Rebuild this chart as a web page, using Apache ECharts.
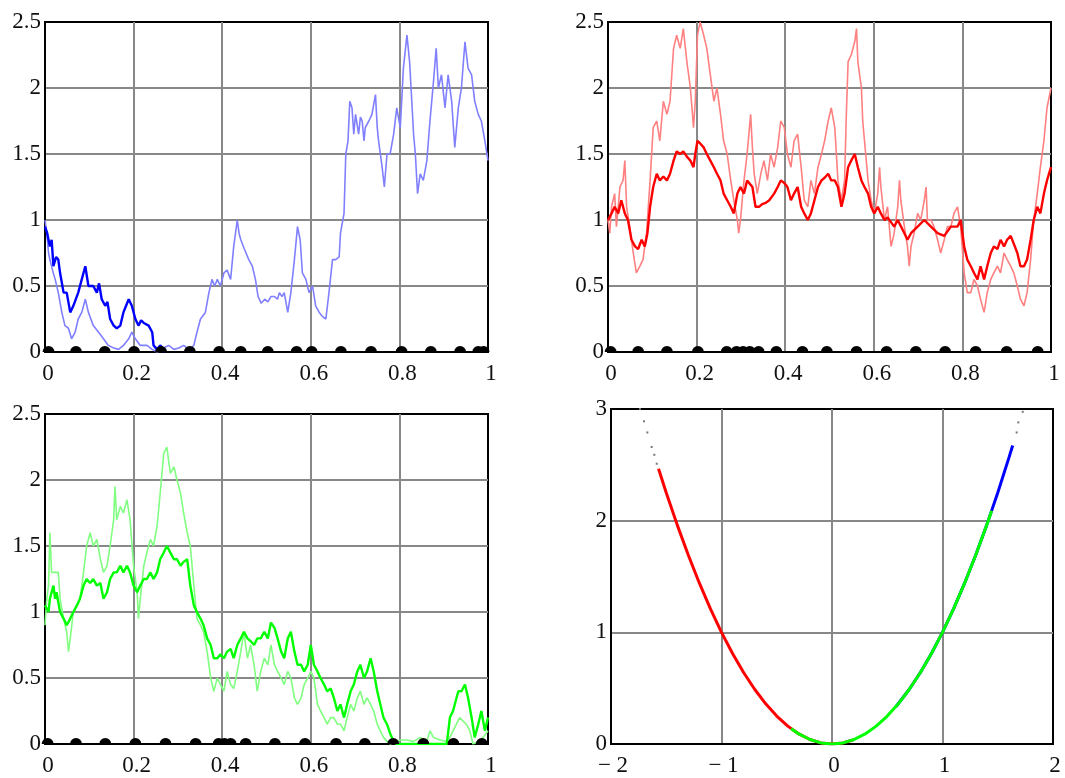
<!DOCTYPE html>
<html>
<head>
<meta charset="utf-8">
<script src="https://cdn.jsdelivr.net/npm/echarts@6.0.0/dist/echarts.min.js"></script>
<style>
  html, body { margin: 0; padding: 0; background: #fff; }
  #chart { width: 1065px; height: 778px; }
</style>
</head>
<body>
<div id="chart"></div>
<script>
// --- data ---
var xTicks = [0, 0.2, 0.4, 0.6, 0.8, 1];
var yTicks = [0, 0.5, 1, 1.5, 2, 2.5];

// panel 1 (blue)
var blueDark = [[0,0.95],[0.005,0.9],[0.011,0.8],[0.015,0.85],[0.019,0.65],[0.025,0.72],[0.03,0.7],[0.034,0.6],[0.042,0.45],[0.049,0.45],[0.057,0.3],[0.064,0.35],[0.075,0.45],[0.083,0.55],[0.087,0.6],[0.091,0.65],[0.098,0.5],[0.109,0.5],[0.117,0.45],[0.122,0.52],[0.128,0.4],[0.136,0.35],[0.141,0.38],[0.147,0.25],[0.155,0.2],[0.162,0.18],[0.17,0.2],[0.177,0.3],[0.183,0.35],[0.189,0.4],[0.196,0.35],[0.204,0.25],[0.211,0.2],[0.217,0.24],[0.223,0.22],[0.234,0.2],[0.242,0.15],[0.245,0.05],[0.253,0.02],[0.26,0.05],[0.268,0.02],[0.272,0]];
var blueLight = [[0,1.0],[0.004,0.9],[0.008,0.75],[0.011,0.7],[0.017,0.62],[0.023,0.55],[0.03,0.45],[0.038,0.3],[0.045,0.2],[0.053,0.18],[0.06,0.1],[0.068,0.15],[0.075,0.25],[0.083,0.3],[0.091,0.4],[0.098,0.3],[0.109,0.2],[0.121,0.15],[0.132,0.1],[0.143,0.05],[0.155,0.03],[0.166,0.02],[0.177,0.05],[0.189,0.1],[0.196,0.15],[0.204,0.1],[0.215,0.05],[0.23,0.05],[0.242,0.02],[0.253,0],[0.268,0.03],[0.279,0.05],[0.291,0.02],[0.302,0.03],[0.313,0.05],[0.325,0.02],[0.336,0.05],[0.343,0.15],[0.351,0.25],[0.362,0.3],[0.37,0.45],[0.377,0.55],[0.383,0.5],[0.389,0.55],[0.396,0.5],[0.404,0.6],[0.411,0.62],[0.419,0.55],[0.426,0.8],[0.434,1.0],[0.438,0.9],[0.442,0.85],[0.45,0.78],[0.46,0.7],[0.468,0.65],[0.475,0.55],[0.481,0.42],[0.488,0.37],[0.496,0.4],[0.503,0.38],[0.51,0.42],[0.518,0.42],[0.525,0.4],[0.529,0.45],[0.535,0.42],[0.54,0.45],[0.548,0.3],[0.555,0.45],[0.563,0.7],[0.57,0.95],[0.576,0.85],[0.581,0.6],[0.589,0.55],[0.596,0.45],[0.604,0.5],[0.611,0.35],[0.619,0.3],[0.626,0.27],[0.634,0.25],[0.641,0.45],[0.649,0.7],[0.656,0.7],[0.664,0.72],[0.667,0.9],[0.675,1.05],[0.679,1.5],[0.684,1.6],[0.688,1.9],[0.693,1.85],[0.697,1.65],[0.701,1.8],[0.708,1.65],[0.712,1.78],[0.716,1.75],[0.72,1.6],[0.723,1.7],[0.731,1.75],[0.738,1.8],[0.746,1.95],[0.75,1.7],[0.753,1.6],[0.761,1.4],[0.766,1.25],[0.772,1.5],[0.779,1.5],[0.787,1.65],[0.794,1.85],[0.802,1.7],[0.809,2.15],[0.817,2.4],[0.823,2.2],[0.828,1.9],[0.832,1.65],[0.836,1.5],[0.841,1.2],[0.847,1.35],[0.854,1.3],[0.862,1.45],[0.869,1.75],[0.877,2.05],[0.883,2.3],[0.888,2.0],[0.895,2.1],[0.903,1.85],[0.91,2.1],[0.918,1.9],[0.925,1.55],[0.933,1.85],[0.94,2.0],[0.948,2.35],[0.955,2.15],[0.963,2.1],[0.97,1.9],[0.978,1.8],[0.985,1.75],[0.993,1.6],[1.0,1.45]];
var zeros1 = [0.008,0.07,0.135,0.201,0.262,0.327,0.393,0.442,0.503,0.568,0.602,0.668,0.736,0.805,0.871,0.937,0.978,0.99];

// panel 2 (red)
var redDark = [[0,1.0],[0.008,1.05],[0.015,1.1],[0.023,1.05],[0.03,1.15],[0.038,1.05],[0.045,1.0],[0.053,0.85],[0.061,0.8],[0.068,0.78],[0.076,0.85],[0.083,0.8],[0.089,0.9],[0.095,1.1],[0.102,1.25],[0.11,1.35],[0.117,1.3],[0.125,1.33],[0.133,1.3],[0.14,1.35],[0.148,1.45],[0.155,1.52],[0.163,1.5],[0.17,1.52],[0.178,1.48],[0.186,1.45],[0.193,1.4],[0.197,1.5],[0.202,1.6],[0.208,1.58],[0.216,1.55],[0.223,1.5],[0.231,1.45],[0.239,1.4],[0.246,1.35],[0.254,1.3],[0.261,1.2],[0.269,1.15],[0.277,1.1],[0.284,1.05],[0.292,1.2],[0.299,1.25],[0.307,1.2],[0.314,1.3],[0.326,1.25],[0.333,1.1],[0.341,1.1],[0.348,1.12],[0.356,1.13],[0.364,1.15],[0.375,1.2],[0.383,1.25],[0.39,1.3],[0.398,1.28],[0.405,1.25],[0.413,1.15],[0.42,1.2],[0.428,1.25],[0.436,1.1],[0.443,1.05],[0.451,1.0],[0.458,1.05],[0.466,1.15],[0.474,1.25],[0.482,1.3],[0.489,1.32],[0.497,1.35],[0.504,1.3],[0.512,1.3],[0.519,1.25],[0.527,1.1],[0.534,1.2],[0.542,1.4],[0.549,1.45],[0.557,1.5],[0.564,1.4],[0.572,1.3],[0.579,1.25],[0.587,1.2],[0.594,1.1],[0.601,1.05],[0.609,1.1],[0.616,1.05],[0.624,1.0],[0.631,1.02],[0.646,0.95],[0.654,1.0],[0.669,0.9],[0.676,0.85],[0.684,0.9],[0.699,0.95],[0.714,1.0],[0.729,0.95],[0.744,0.9],[0.759,0.88],[0.774,0.95],[0.789,0.95],[0.796,1.0],[0.804,0.8],[0.811,0.7],[0.819,0.65],[0.826,0.6],[0.834,0.55],[0.841,0.65],[0.849,0.55],[0.856,0.65],[0.864,0.75],[0.871,0.8],[0.879,0.78],[0.886,0.85],[0.894,0.8],[0.901,0.85],[0.909,0.88],[0.916,0.82],[0.924,0.75],[0.931,0.65],[0.939,0.65],[0.946,0.7],[0.954,0.85],[0.961,1.0],[0.969,1.1],[0.976,1.05],[0.984,1.2],[0.991,1.3],[1.0,1.4]];
var redLight = [[0,1.0],[0.004,0.9],[0.008,1.1],[0.015,1.2],[0.019,0.95],[0.027,1.25],[0.034,1.3],[0.038,1.45],[0.042,1.1],[0.049,0.95],[0.057,0.75],[0.064,0.6],[0.072,0.65],[0.079,0.7],[0.087,0.9],[0.095,1.3],[0.102,1.7],[0.11,1.75],[0.117,1.6],[0.125,1.9],[0.133,1.8],[0.14,1.9],[0.148,2.3],[0.155,2.4],[0.163,2.3],[0.17,2.45],[0.178,2.2],[0.186,2.0],[0.193,1.7],[0.197,1.9],[0.202,2.4],[0.208,2.5],[0.216,2.4],[0.223,2.3],[0.231,2.1],[0.239,1.9],[0.246,2.0],[0.254,1.8],[0.261,1.6],[0.269,1.5],[0.277,1.3],[0.284,1.15],[0.292,1.0],[0.295,0.9],[0.299,1.0],[0.307,1.3],[0.314,1.5],[0.322,1.8],[0.326,1.55],[0.33,1.35],[0.337,1.2],[0.345,1.35],[0.352,1.45],[0.36,1.3],[0.367,1.5],[0.375,1.4],[0.383,1.55],[0.39,1.75],[0.398,1.7],[0.405,1.5],[0.413,1.4],[0.42,1.6],[0.428,1.65],[0.436,1.4],[0.443,1.15],[0.451,1.1],[0.458,1.3],[0.466,1.2],[0.474,1.4],[0.482,1.5],[0.489,1.6],[0.497,1.75],[0.504,1.85],[0.512,1.7],[0.519,1.3],[0.527,1.15],[0.534,1.3],[0.538,1.8],[0.542,2.2],[0.549,2.25],[0.557,2.35],[0.561,2.45],[0.564,2.2],[0.572,2.0],[0.575,1.75],[0.579,1.6],[0.587,1.3],[0.594,1.15],[0.601,1.05],[0.609,1.2],[0.613,1.4],[0.616,1.25],[0.624,1.0],[0.631,1.1],[0.639,0.8],[0.646,0.9],[0.654,1.1],[0.658,1.3],[0.661,1.15],[0.669,0.95],[0.676,0.8],[0.68,0.65],[0.684,0.8],[0.691,0.9],[0.699,1.05],[0.706,1.0],[0.714,1.15],[0.718,1.25],[0.721,1.0],[0.729,1.0],[0.736,0.95],[0.744,0.85],[0.751,0.75],[0.759,0.85],[0.766,0.95],[0.774,0.95],[0.781,1.05],[0.789,1.1],[0.796,0.95],[0.804,0.6],[0.811,0.45],[0.819,0.45],[0.826,0.55],[0.834,0.5],[0.841,0.4],[0.849,0.3],[0.856,0.45],[0.864,0.55],[0.871,0.6],[0.879,0.65],[0.886,0.6],[0.894,0.75],[0.901,0.7],[0.909,0.65],[0.916,0.6],[0.924,0.5],[0.931,0.4],[0.939,0.35],[0.946,0.45],[0.954,0.7],[0.961,1.0],[0.969,1.2],[0.976,1.4],[0.984,1.6],[0.991,1.85],[1.0,2.0]];
var zeros2 = [0.006,0.068,0.133,0.203,0.268,0.29,0.305,0.32,0.34,0.38,0.439,0.494,0.561,0.629,0.695,0.761,0.83,0.9,0.97];

// panel 3 (green)
var greenDark = [[0,1.05],[0.008,1.0],[0.011,1.1],[0.019,1.2],[0.023,1.1],[0.026,1.15],[0.034,1.0],[0.042,0.95],[0.049,0.9],[0.057,0.95],[0.064,1.0],[0.072,1.05],[0.079,1.1],[0.087,1.2],[0.094,1.25],[0.102,1.22],[0.109,1.25],[0.117,1.2],[0.125,1.22],[0.132,1.1],[0.14,1.15],[0.147,1.25],[0.155,1.3],[0.162,1.3],[0.17,1.35],[0.177,1.3],[0.185,1.35],[0.192,1.3],[0.2,1.2],[0.208,1.15],[0.215,1.2],[0.223,1.25],[0.23,1.25],[0.238,1.3],[0.245,1.25],[0.253,1.3],[0.26,1.4],[0.268,1.45],[0.275,1.5],[0.283,1.45],[0.291,1.4],[0.298,1.4],[0.306,1.35],[0.313,1.38],[0.321,1.4],[0.328,1.2],[0.336,1.05],[0.343,1.0],[0.351,0.95],[0.358,0.9],[0.366,0.8],[0.374,0.75],[0.381,0.65],[0.389,0.65],[0.396,0.68],[0.404,0.65],[0.411,0.7],[0.419,0.72],[0.426,0.65],[0.434,0.75],[0.442,0.8],[0.449,0.85],[0.457,0.8],[0.464,0.78],[0.472,0.75],[0.479,0.8],[0.487,0.8],[0.495,0.85],[0.503,0.8],[0.51,0.92],[0.518,0.88],[0.525,0.8],[0.533,0.7],[0.54,0.65],[0.548,0.8],[0.555,0.85],[0.563,0.7],[0.57,0.6],[0.578,0.6],[0.585,0.55],[0.593,0.6],[0.6,0.75],[0.607,0.6],[0.615,0.55],[0.622,0.5],[0.63,0.45],[0.637,0.4],[0.645,0.42],[0.652,0.35],[0.66,0.25],[0.667,0.3],[0.675,0.2],[0.682,0.3],[0.69,0.4],[0.697,0.45],[0.705,0.55],[0.712,0.6],[0.72,0.5],[0.727,0.55],[0.735,0.65],[0.742,0.55],[0.75,0.4],[0.757,0.3],[0.764,0.2],[0.772,0.15],[0.779,0.08],[0.787,0.02],[0.794,0],[0.907,0],[0.914,0.2],[0.921,0.25],[0.933,0.4],[0.94,0.4],[0.948,0.45],[0.955,0.35],[0.963,0.2],[0.97,0.05],[0.978,0.15],[0.985,0.25],[0.993,0.1],[1.0,0.2]];
var greenLight = [[0,0.9],[0.004,1.1],[0.008,1.2],[0.011,1.6],[0.015,1.3],[0.023,1.3],[0.03,1.3],[0.034,1.1],[0.042,0.95],[0.049,0.85],[0.053,0.7],[0.057,0.8],[0.064,1.0],[0.072,1.05],[0.079,1.1],[0.087,1.3],[0.094,1.5],[0.102,1.6],[0.109,1.5],[0.117,1.55],[0.125,1.4],[0.132,1.3],[0.14,1.35],[0.147,1.5],[0.155,1.7],[0.158,1.95],[0.162,1.7],[0.17,1.8],[0.177,1.75],[0.185,1.85],[0.192,1.7],[0.2,1.35],[0.208,1.15],[0.211,0.95],[0.215,1.1],[0.223,1.35],[0.23,1.45],[0.238,1.55],[0.245,1.5],[0.253,1.65],[0.26,1.9],[0.268,2.2],[0.275,2.25],[0.283,2.05],[0.291,2.1],[0.298,2.0],[0.306,1.9],[0.313,1.75],[0.321,1.6],[0.328,1.5],[0.336,1.2],[0.343,0.95],[0.351,0.9],[0.358,0.85],[0.366,0.7],[0.374,0.5],[0.381,0.4],[0.389,0.5],[0.396,0.45],[0.404,0.4],[0.411,0.55],[0.419,0.45],[0.426,0.42],[0.434,0.55],[0.442,0.7],[0.449,0.85],[0.457,0.65],[0.464,0.75],[0.472,0.6],[0.479,0.4],[0.487,0.55],[0.495,0.65],[0.503,0.6],[0.51,0.75],[0.518,0.6],[0.525,0.55],[0.533,0.5],[0.54,0.45],[0.548,0.55],[0.555,0.5],[0.563,0.35],[0.57,0.3],[0.578,0.35],[0.585,0.45],[0.593,0.5],[0.6,0.55],[0.607,0.5],[0.615,0.3],[0.622,0.25],[0.63,0.2],[0.637,0.15],[0.645,0.2],[0.652,0.2],[0.66,0.15],[0.667,0.15],[0.675,0.1],[0.682,0.2],[0.69,0.3],[0.697,0.25],[0.705,0.35],[0.712,0.4],[0.72,0.3],[0.727,0.35],[0.735,0.3],[0.742,0.25],[0.75,0.15],[0.757,0.1],[0.764,0.05],[0.772,0.02],[0.779,0],[0.802,0.03],[0.817,0.03],[0.832,0.02],[0.847,0.05],[0.862,0.02],[0.869,0.1],[0.877,0.05],[0.892,0.03],[0.907,0.02],[0.914,0.05],[0.921,0.1],[0.936,0.2],[0.951,0.15],[0.959,0.1],[0.966,0],[0.981,0.02],[0.989,0.05],[1.0,0.1]];
var zeros3 = [0.006,0.07,0.136,0.204,0.272,0.34,0.392,0.405,0.419,0.453,0.519,0.587,0.657,0.722,0.786,0.854,0.922,0.986];

// panel 4 (parabola)
var paraRed = [[-1.57,2.465],[-1.5,2.25],[-1.4,1.96],[-1.3,1.69],[-1.2,1.44],[-1.1,1.21],[-1.0,1.0],[-0.9,0.81],[-0.8,0.64],[-0.7,0.49],[-0.6,0.36],[-0.5,0.25],[-0.4,0.16],[-0.3,0.09],[-0.2,0.04],[-0.1,0.01],[0,0],[0.1,0.01],[0.19,0.036]];
var paraGreen = [[-0.37,0.137],[-0.3,0.09],[-0.2,0.04],[-0.1,0.01],[0,0],[0.1,0.01],[0.2,0.04],[0.3,0.09],[0.4,0.16],[0.5,0.25],[0.6,0.36],[0.7,0.49],[0.8,0.64],[0.9,0.81],[1.0,1.0],[1.1,1.21],[1.2,1.44],[1.3,1.69],[1.4,1.96],[1.445,2.088]];
var paraBlue = [[0.58,0.336],[0.7,0.49],[0.8,0.64],[0.9,0.81],[1.0,1.0],[1.1,1.21],[1.2,1.44],[1.3,1.69],[1.4,1.96],[1.5,2.25],[1.6,2.56],[1.635,2.673]];
var paraGray = [[-1.738,3.0],[-1.701,2.89],[-1.671,2.79],[-1.632,2.66],[-1.608,2.59],[-1.586,2.51],[1.671,2.79],[1.686,2.88],[1.726,2.975]];

// --- chart ---
var chart = echarts.init(document.getElementById('chart'));
var labelFont = { fontFamily: 'Liberation Serif', fontSize: 23, color: '#111' };
var grids = [
  { left: 45, top: 22, width: 443, height: 330 },
  { left: 608, top: 22, width: 443, height: 330 },
  { left: 45, top: 414, width: 443, height: 330 },
  { left: 611, top: 409, width: 442, height: 335 }
];
// flat-bottomed bump drawn on the zero line
var bump = 'path://M0,10 L1,6 L3,3 L6,1 L10,0 L14,1 L17,3 L19,6 L20,10 Z';

function xAxis(i, min, max, step, fmt, pad) {
  return {
    type: 'value', gridIndex: i, min: min, max: max, interval: step,
    axisLine: { show: true, onZero: false, lineStyle: { color: '#000', width: 2 } },
    axisTick: { show: false },
    axisLabel: Object.assign({ margin: 10, formatter: fmt, padding: pad || 0 }, labelFont),
    splitLine: { show: true, showMinLine: false, showMaxLine: false, lineStyle: { color: '#888', width: 2 } }
  };
}
function yAxis(i, min, max, step) {
  return {
    type: 'value', gridIndex: i, min: min, max: max, interval: step,
    axisLine: { show: true, onZero: false, lineStyle: { color: '#000', width: 2 } },
    axisTick: { show: false },
    axisLabel: Object.assign({ margin: 4 }, labelFont),
    splitLine: { show: true, showMinLine: false, showMaxLine: false, lineStyle: { color: '#888', width: 2 } }
  };
}
function walk(i, data, color, w) {
  return { type: 'line', xAxisIndex: i, yAxisIndex: i, data: data, showSymbol: false,
    lineStyle: { color: color, width: w } };
}
function dots(i, xs) {
  return { type: 'scatter', xAxisIndex: i, yAxisIndex: i, z: 5,
    data: xs.map(function (x) { return [x, 0]; }),
    symbol: bump, symbolSize: [12, 6], symbolOffset: [0, -3],
    itemStyle: { color: '#000', opacity: 1 } };
}
var minusFmt = function (v) { return v < 0 ? '\u2212 ' + Math.abs(v) : String(v); };

chart.setOption({
  backgroundColor: '#fff',
  animation: false,
  grid: grids.map(function (g) {
    return Object.assign({ show: true, borderColor: '#000', borderWidth: 2, backgroundColor: 'transparent' }, g);
  }),
  xAxis: [
    xAxis(0, 0, 1, 0.2, null, [0, 0, 0, 6]),
    xAxis(1, 0, 1, 0.2, null, [0, 0, 0, 6]),
    xAxis(2, 0, 1, 0.2, null, [0, 0, 0, 6]),
    xAxis(3, -2, 2, 1, minusFmt, [0, 0, 0, 4])
  ],
  yAxis: [yAxis(0, 0, 2.5, 0.5), yAxis(1, 0, 2.5, 0.5), yAxis(2, 0, 2.5, 0.5), yAxis(3, 0, 3, 1)],
  series: [
    walk(0, blueLight, '#8080ff', 1.6),
    walk(0, blueDark, '#0000ff', 2.4),
    dots(0, zeros1),
    walk(1, redLight, '#ff8080', 1.6),
    walk(1, redDark, '#ff0000', 2.4),
    dots(1, zeros2),
    walk(2, greenLight, '#80ff80', 1.6),
    walk(2, greenDark, '#00ff00', 2.4),
    dots(2, zeros3),
    { type: 'line', xAxisIndex: 3, yAxisIndex: 3, data: paraBlue, showSymbol: false, lineStyle: { color: '#0000ff', width: 3 } },
    { type: 'line', xAxisIndex: 3, yAxisIndex: 3, data: paraRed, showSymbol: false, lineStyle: { color: '#ff0000', width: 3 } },
    { type: 'line', xAxisIndex: 3, yAxisIndex: 3, data: paraGreen, showSymbol: false, lineStyle: { color: '#00ff00', width: 3 } },
    { type: 'scatter', xAxisIndex: 3, yAxisIndex: 3, data: paraGray, symbol: 'rect', symbolSize: 2, itemStyle: { color: '#777', opacity: 1 } }
  ]
});
</script>
</body>
</html>
